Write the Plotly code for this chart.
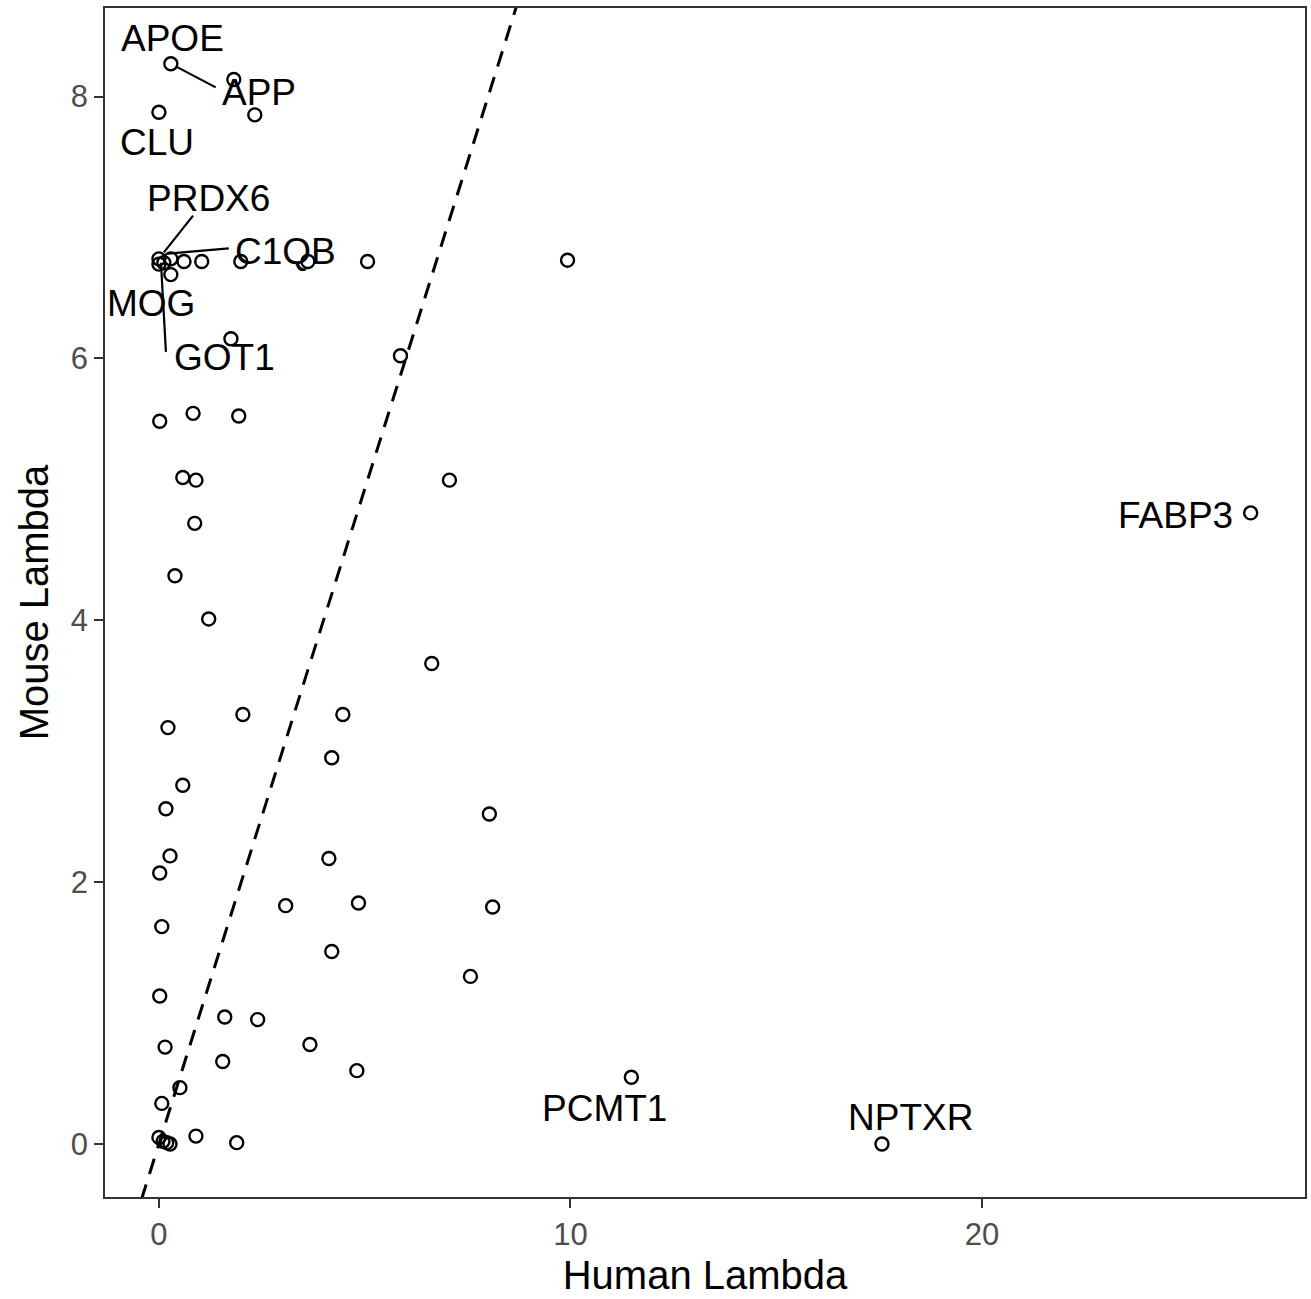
import plotly.graph_objects as go

# ---- data ----
human_lambda = [
    0.29, 1.82, 0.00, 2.33, 0.00, 0.12, 0.00, 0.29, 0.61, 1.04,
    1.99, 3.62, 5.07, 9.93, 0.29, 1.75, 5.87, 0.02, 0.83, 1.94,
    0.58, 0.90, 7.06, 0.87, 26.53, 0.39, 1.21, 6.63, 2.04, 4.47,
    0.22, 4.20, 0.58, 0.17, 8.03, 0.27, 4.13, 0.02, 3.08, 4.85,
    8.11, 0.07, 4.20, 7.57, 0.02, 1.60, 2.40, 3.67, 0.15, 1.55,
    4.81, 11.48, 0.51, 0.07, 0.00, 0.10, 0.19, 0.27, 0.90, 1.89,
    17.57,
]
mouse_lambda = [
    8.25, 8.13, 7.88, 7.86, 6.76, 6.73, 6.72, 6.76, 6.74, 6.74,
    6.74, 6.74, 6.74, 6.75, 6.64, 6.15, 6.02, 5.52, 5.58, 5.56,
    5.09, 5.07, 5.07, 4.74, 4.82, 4.34, 4.01, 3.67, 3.28, 3.28,
    3.18, 2.95, 2.74, 2.56, 2.52, 2.20, 2.18, 2.07, 1.82, 1.84,
    1.81, 1.66, 1.47, 1.28, 1.13, 0.97, 0.95, 0.76, 0.74, 0.63,
    0.56, 0.51, 0.43, 0.31, 0.05, 0.02, 0.01, 0.00, 0.06, 0.01,
    0.00,
]

gene_labels = ["APOE", "APP", "CLU", "PRDX6", "C1QB", "MOG", "GOT1", "FABP3", "PCMT1", "NPTXR"]

x_tick_vals = [0, 10, 20]
y_tick_vals = [0, 2, 4, 6, 8]

# ---- label placement (layout only) ----
label_pos = {
    "APOE": (0.34, 8.44),
    "APP": (2.43, 8.03),
    "CLU": (-0.05, 7.65),
    "PRDX6": (1.21, 7.22),
    "C1QB": (3.08, 6.82),
    "MOG": (-0.19, 6.42),
    "GOT1": (1.60, 6.01),
    "FABP3": (24.70, 4.80),
    "PCMT1": (10.82, 0.27),
    "NPTXR": (18.26, 0.20),
}
segments = [
    ((0.41, 8.23), (1.38, 8.07)),
    ((0.83, 7.09), (0.12, 6.81)),
    ((1.70, 6.84), (0.22, 6.80)),
    ((0.17, 6.05), (0.05, 6.73)),
]

x_range = [-1.31, 27.85]
y_range = [-0.405, 8.676]

fig = go.Figure()

# identity (y = x) dashed line
fig.add_trace(go.Scatter(
    x=[-2, 12], y=[-2, 12], mode="lines",
    line=dict(color="black", width=3, dash="16px,11px"),
    hoverinfo="skip", showlegend=False,
))

fig.add_trace(go.Scatter(
    x=human_lambda, y=mouse_lambda, mode="markers",
    marker=dict(symbol="circle-open", size=13, color="black",
                line=dict(color="black", width=2.4)),
    showlegend=False,
))

shapes = []
for (x0, y0), (x1, y1) in segments:
    shapes.append(dict(type="line", xref="x", yref="y", x0=x0, y0=y0, x1=x1, y1=y1,
                       line=dict(color="black", width=2.2)))

annotations = []
for g in gene_labels:
    lx, ly = label_pos[g]
    annotations.append(dict(
        x=lx, y=ly, xref="x", yref="y", text=g, showarrow=False,
        font=dict(family="Liberation Sans, Arial, sans-serif", size=37, color="black"),
        xanchor="center", yanchor="middle",
    ))

fig.update_layout(
    width=1311, height=1299,
    margin=dict(l=105, r=6, t=8, b=102),
    paper_bgcolor="white", plot_bgcolor="white",
    shapes=shapes, annotations=annotations,
    font=dict(family="Liberation Sans, Arial, sans-serif"),
)

axis_common = dict(
    showgrid=False, zeroline=False,
    showline=True, mirror=True, linecolor="#333333", linewidth=1.6,
    ticks="outside", ticklen=9, tickwidth=1.6, tickcolor="#333333",
    tickfont=dict(family="Liberation Sans, Arial, sans-serif", size=31, color="#4d4d4d"),
)

fig.update_xaxes(
    range=x_range, tickvals=x_tick_vals, ticktext=[str(v) for v in x_tick_vals],
    title=dict(text="Human Lambda", standoff=10,
               font=dict(family="Liberation Sans, Arial, sans-serif", size=40, color="black")),
    automargin=False, **axis_common,
)
fig.update_yaxes(
    range=y_range, tickvals=y_tick_vals, ticktext=[str(v) for v in y_tick_vals],
    title=dict(text="Mouse Lambda", standoff=10,
               font=dict(family="Liberation Sans, Arial, sans-serif", size=40, color="black")),
    automargin=False, **axis_common,
)

fig.write_html("out.html")
